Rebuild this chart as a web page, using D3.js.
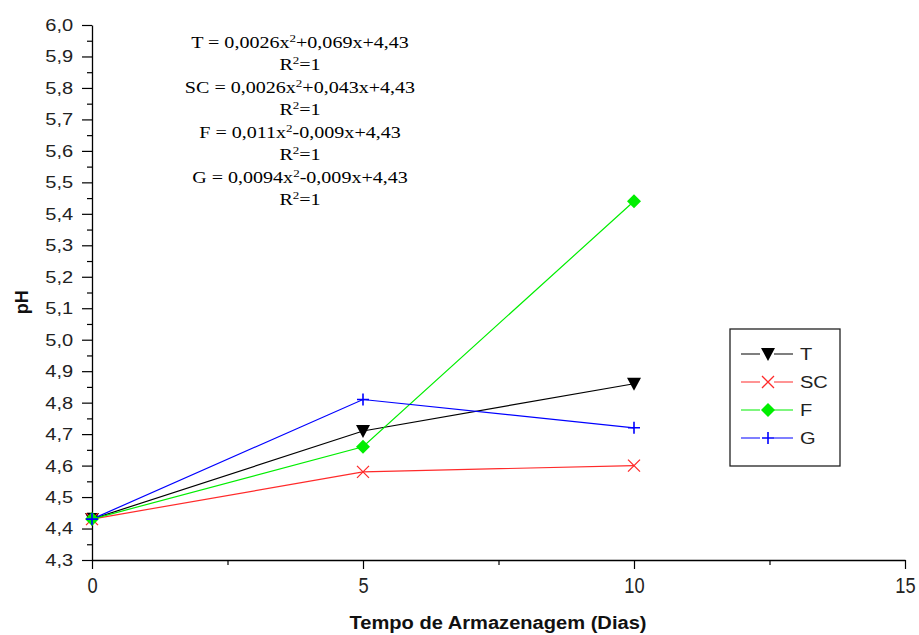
<!DOCTYPE html>
<html>
<head>
<meta charset="utf-8">
<script src="https://cdn.jsdelivr.net/npm/d3@7"></script>
<style>
  body { margin: 0; background: #fff; }
  svg text { font-family: "Liberation Sans", Arial, sans-serif; }
</style>
</head>
<body>
<div id="chart"></div>
<script>
// data
const days = [0, 5, 10];
const seriesNames = ["T", "SC", "F", "G"];
const valuesT = [4.43, 4.71, 4.86];
const valuesSC = [4.43, 4.58, 4.60];
const valuesF = [4.43, 4.66, 5.44];
const valuesG = [4.43, 4.81, 4.72];
const equations = [
    ["T = 0,0026x", "+0,069x+4,43"],
    ["SC = 0,0026x", "+0,043x+4,43"],
    ["F = 0,011x", "-0,009x+4,43"],
    ["G = 0,0094x", "-0,009x+4,43"]
];
const yTicks = d3.range(4.3, 6.0001, 0.1);
const xTicks = [0, 5, 10, 15];

const series = [
    { name: seriesNames[0], values: valuesT, color: "#000000", marker: "tri" },
    { name: seriesNames[1], values: valuesSC, color: "#ff2a2a", marker: "x" },
    { name: seriesNames[2], values: valuesF, color: "#00ee00", marker: "diamond" },
    { name: seriesNames[3], values: valuesG, color: "#0000ff", marker: "plus" }
];

const W = 919, H = 635;
const margin = { top: 25, right: 14, bottom: 75, left: 92 };
const width = W - margin.left - margin.right;
const height = H - margin.top - margin.bottom;
const stretch = 1.18; // the original text looks a bit wider than plain Arial

const svg = d3.select("#chart")
    .append("svg")
    .attr("width", W)
    .attr("height", H)
    .append("g")
    .attr("transform", `translate(${margin.left}, ${margin.top})`);

const xScale = d3.scaleLinear().domain([0, 15]).range([0, width]);
const yScale = d3.scaleLinear().domain([4.3, 6.0]).range([height, 0]);
const fmt = d => d3.format(".1f")(d).replace(".", ",");

// minor ticks
svg.append("g")
    .attr("transform", `translate(0, ${height})`)
    .call(d3.axisBottom(xScale).tickValues([2.5, 7.5, 12.5]).tickSize(5).tickFormat(""))
    .call(g => g.select(".domain").remove());
svg.append("g")
    .call(d3.axisLeft(yScale).tickValues(d3.range(4.35, 6.0, 0.1)).tickSize(5).tickFormat(""))
    .call(g => g.select(".domain").remove());

// major axes
const xAxis = svg.append("g")
    .attr("transform", `translate(0, ${height})`)
    .call(d3.axisBottom(xScale).tickValues(xTicks).tickSize(9).tickSizeOuter(0).tickFormat(d3.format("d")));
xAxis.selectAll(".tick text")
    .attr("font-size", 22)
    .attr("fill", "#222")
    .attr("y", 33)
    .attr("dy", null)
    .attr("transform", "scale(0.83,1)");

const yAxis = svg.append("g")
    .call(d3.axisLeft(yScale).tickValues(yTicks).tickSize(10).tickSizeOuter(0).tickFormat(fmt).tickPadding(6));
yAxis.selectAll(".tick text")
    .attr("font-size", 17)
    .attr("fill", "#222")
    .attr("transform", `scale(${stretch},1)`);

svg.selectAll(".domain").attr("stroke", "#000").attr("stroke-width", 1.3);
svg.selectAll(".tick line").attr("stroke", "#000").attr("stroke-width", 1.2);

// axis titles
svg.append("text")
    .attr("transform", `translate(${498 - margin.left}, ${629 - margin.top})`)
    .attr("text-anchor", "middle")
    .attr("font-size", 18)
    .attr("font-weight", "bold")
    .attr("fill", "#111")
    .attr("textLength", 297)
    .attr("lengthAdjust", "spacingAndGlyphs")
    .text("Tempo de Armazenagem (Dias)");
svg.append("text")
    .attr("transform", `translate(-64, ${yScale(5.1) - 6}) rotate(-90)`)
    .attr("text-anchor", "middle")
    .attr("font-size", 18)
    .attr("font-weight", "bold")
    .attr("fill", "#111")
    .text("pH");

// lines
const line = d3.line()
    .x((d, i) => xScale(days[i]))
    .y(d => yScale(d));

series.forEach(s => {
    svg.append("path")
        .datum(s.values)
        .attr("fill", "none")
        .attr("stroke", s.color)
        .attr("stroke-width", 1.2)
        .attr("d", line);
});

function drawMarker(g, type, color, x, y) {
    if (type === "tri") {
        g.append("path")
            .attr("d", `M${x - 7},${y - 6} L${x + 7},${y - 6} L${x},${y + 7} Z`)
            .attr("fill", color);
    } else if (type === "x") {
        g.append("path")
            .attr("d", `M${x - 6},${y - 6} L${x + 6},${y + 6} M${x - 6},${y + 6} L${x + 6},${y - 6}`)
            .attr("stroke", color).attr("stroke-width", 1.3).attr("fill", "none");
    } else if (type === "diamond") {
        g.append("path")
            .attr("d", `M${x},${y - 7} L${x + 7},${y} L${x},${y + 7} L${x - 7},${y} Z`)
            .attr("fill", color);
    } else if (type === "plus") {
        g.append("path")
            .attr("d", `M${x - 6},${y} L${x + 6},${y} M${x},${y - 6} L${x},${y + 6}`)
            .attr("stroke", color).attr("stroke-width", 1.6).attr("fill", "none");
    }
}

series.forEach(s => {
    const g = svg.append("g");
    s.values.forEach((v, i) => drawMarker(g, s.marker, s.color, xScale(days[i]), yScale(v)));
});

// equation text
const eq = svg.append("g")
    .attr("transform", `translate(208, 0) scale(${stretch},1)`)
    .append("text")
    .attr("text-anchor", "middle")
    .attr("font-size", 17)
    .attr("fill", "#000")
    .style("font-family", "'Liberation Serif', 'Times New Roman', serif");
equations.forEach((e, i) => {
    const y0 = 23 + i * 45;
    const t1 = eq.append("tspan").attr("x", 0).attr("y", y0);
    t1.append("tspan").text(e[0]);
    t1.append("tspan").attr("font-size", 11).attr("dy", -6).text("2");
    t1.append("tspan").attr("dy", 6).text(e[1]);
    const t2 = eq.append("tspan").attr("x", 0).attr("y", y0 + 22.5);
    t2.append("tspan").text("R");
    t2.append("tspan").attr("font-size", 11).attr("dy", -6).text("2");
    t2.append("tspan").attr("dy", 6).text("=1");
});

// legend
const legend = svg.append("g").attr("transform", `translate(${730 - margin.left}, ${329 - margin.top})`);
legend.append("rect")
    .attr("width", 110).attr("height", 137)
    .attr("fill", "#fff").attr("stroke", "#222").attr("stroke-width", 1.3);
series.forEach((s, i) => {
    const y = 25 + i * 28;
    legend.append("line")
        .attr("x1", 11).attr("x2", 63).attr("y1", y).attr("y2", y)
        .attr("stroke", s.color).attr("stroke-width", 1.2);
    const mk = legend.append("g");
    mk.append("rect").attr("x", 30).attr("y", y - 8).attr("width", 14).attr("height", 16).attr("fill", "#fff");
    drawMarker(mk, s.marker, s.color, 38, y);
    legend.append("text")
        .attr("transform", `translate(70, ${y + 6}) scale(${stretch},1)`)
        .attr("font-size", 17).attr("fill", "#222")
        .text(s.name);
});
</script>
</body>
</html>
